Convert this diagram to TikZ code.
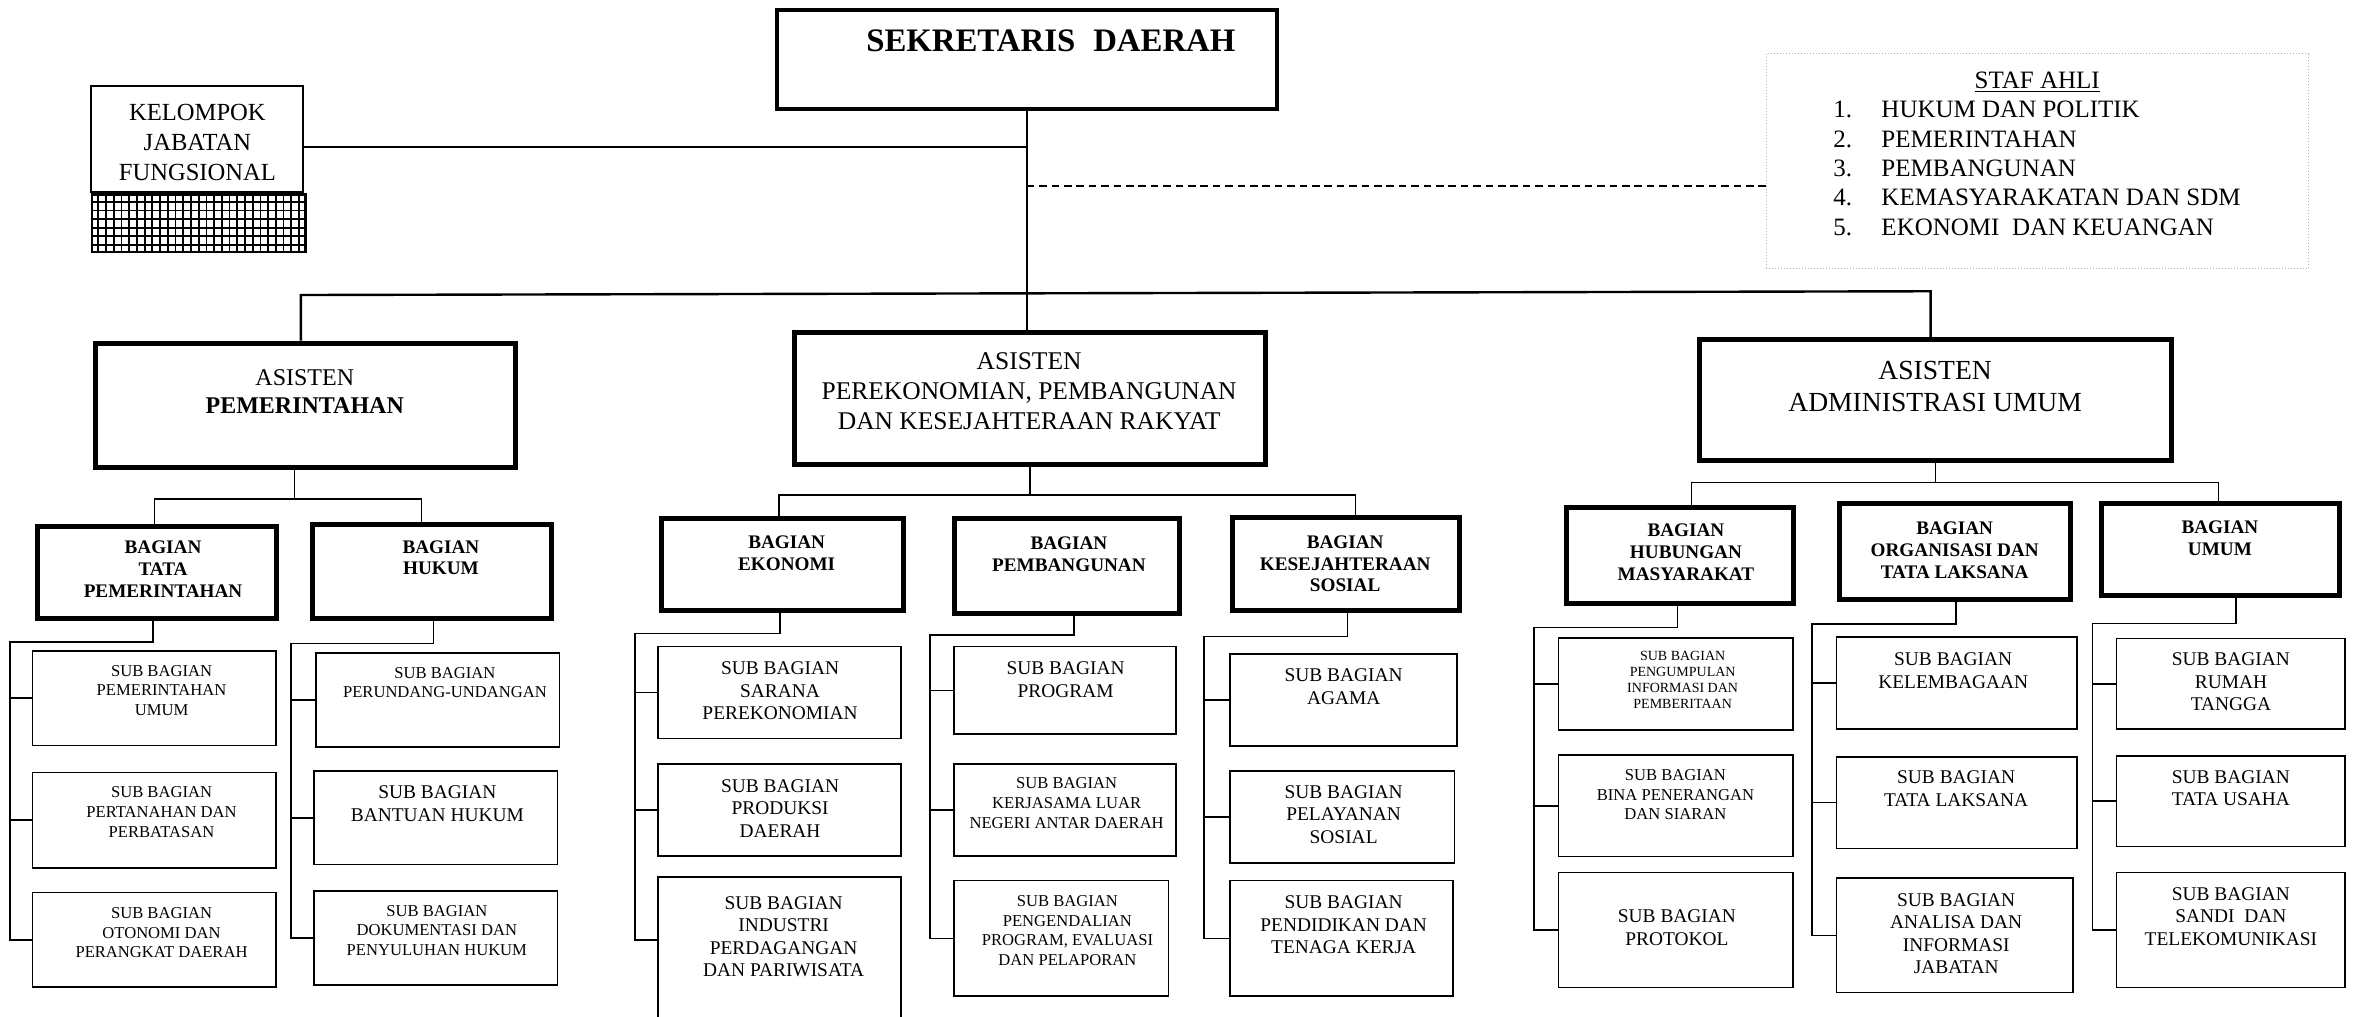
\documentclass[tikz,border=0pt]{standalone}
\usepackage{fontspec}
\setmainfont{Liberation Serif}
\newcommand\bx[7]{\node[#1, anchor=north west, inner sep=0pt,
  minimum width={(#5-#3-2*#7)*0.75065pt}, minimum height={(#6-#4-2*#7)*0.75065pt}] (#2) at (#3,#4) {};}
\newcommand\subcon[4]{%
  \coordinate (#1-d) at (#2,0);
  \coordinate (#1-t) at (#4,#3);
  \draw[con] (#1.south -| #1-d) |- (#1-t) |- (#1-s3.west);
  \draw[con] (#1-t |- #1-s1.west) -- (#1-s1.west);
  \draw[con] (#1-t |- #1-s2.west) -- (#1-s2.west);}
\begin{document}
\begin{tikzpicture}[x=0.75065pt,y=-0.75065pt,
  thickbox/.style={draw, line width=2.5pt},
  sekbox/.style={draw, line width=2pt},
  subbox/.style={draw, line width=0.8pt},
  kelbox/.style={draw, line width=1pt},
  hatchbox/.style={draw, line width=1.2pt},
  stafbox/.style={draw=gray!60, line width=0.5pt, densely dotted},
  gridline/.style={line width=0.9pt},
  con/.style={line width=0.75pt},
  bus/.style={line width=1.2pt},
  kelline/.style={line width=1pt},
  dashline/.style={line width=1pt, dash pattern=on 3.8pt off 2.4pt},
  tx/.style={inner sep=0pt, anchor=north, align=center},
  sekT/.style={tx, font=\fontsize{16.4}{18}\selectfont\bfseries, yshift=5.5pt},
  kelT/.style={tx, font=\fontsize{12.3}{15}\selectfont, yshift=4.1pt},
  stafT/.style={tx, font=\fontsize{12.5}{14.7}\selectfont, yshift=4.1pt},
  stafL/.style={inner sep=0pt, anchor=north west, align=left, font=\fontsize{12.5}{14.7}\selectfont, yshift=4.1pt},
  asTa/.style={tx, font=\fontsize{12}{14.3}\selectfont, yshift=4pt},
  asTb/.style={tx, font=\fontsize{12.75}{15}\selectfont, yshift=4.2pt},
  asTc/.style={tx, font=\fontsize{13.8}{15.8}\selectfont, yshift=4.6pt},
  bagT/.style={tx, font=\fontsize{9.6}{10.9}\selectfont\bfseries, yshift=3.25pt},
  subL/.style={tx, font=\fontsize{9.7}{11.26}\selectfont, yshift=3.2pt},
  subS/.style={tx, font=\fontsize{8.3}{9.76}\selectfont, yshift=2.75pt},
  subT/.style={tx, font=\fontsize{7}{8}\selectfont, yshift=2.3pt}]
\fill[white] (0,0) rectangle (1568,677);
\useasboundingbox (0,0) rectangle (1568,677);

% ---- top level boxes
\bx{sekbox}{sek}{516}{5.5}{852}{74}{1.33}
\bx{kelbox}{kel}{59.7}{56.6}{202.7}{128.8}{0.67}
\bx{hatchbox}{hatch}{60.4}{128.8}{204.3}{168.7}{0.8}
\foreach \i in {1,...,27} \draw[gridline] ({60.4+\i*5.139},128.8) -- ({60.4+\i*5.139},168.7);
\foreach \j in {1,...,6} \draw[gridline] (60.4,{128.8+\j*5.7}) -- (204.3,{128.8+\j*5.7});
\bx{stafbox}{staf}{1176.3}{35.5}{1537.9}{179.4}{0.33}

% ---- asisten
\bx{thickbox}{asPem}{62.1}{226.9}{345}{313}{1.67}
\bx{thickbox}{asPer}{527.5}{219.8}{844.6}{311}{1.67}
\bx{thickbox}{asAdm}{1130.6}{224.7}{1448}{308.2}{1.67}

% ---- bagian
\bx{thickbox}{TATA}{23.3}{349}{185.6}{413.5}{1.67}
\bx{thickbox}{HUK}{206.7}{347.5}{369.3}{413.5}{1.67}
\bx{thickbox}{EKO}{439}{343.5}{603.5}{408.6}{1.67}
\bx{thickbox}{PEMB}{634}{343.7}{787}{410}{1.67}
\bx{thickbox}{KES}{819.3}{343}{973.6}{408}{1.67}
\bx{thickbox}{HUM}{1041.8}{336.4}{1196}{403.7}{1.67}
\bx{thickbox}{ORG}{1223.7}{334}{1381}{400.8}{1.67}
\bx{thickbox}{UMUM}{1398}{334}{1559.8}{398.5}{1.67}

% ---- sub bagian
\bx{subbox}{TATA-s1}{21.1}{433}{184.5}{497}{0.53}
\bx{subbox}{TATA-s2}{21.1}{514}{184.5}{578.6}{0.53}
\bx{subbox}{TATA-s3}{21.1}{594}{184.5}{658}{0.53}
\bx{subbox}{HUK-s1}{210}{434.5}{373.2}{498}{0.53}
\bx{subbox}{HUK-s2}{208.8}{513.2}{371.9}{576.4}{0.53}
\bx{subbox}{HUK-s3}{208.8}{593}{371.9}{656.6}{0.53}
\bx{subbox}{EKO-s1}{437.7}{430}{600.8}{492.5}{0.53}
\bx{subbox}{EKO-s2}{437.7}{508.4}{600.8}{570.8}{0.53}
\bx{subbox}{EKO-s3}{437.7}{583.8}{600.8}{692}{0.53}
\bx{subbox}{PEMB-s1}{635}{430}{784}{489.6}{0.53}
\bx{subbox}{PEMB-s2}{635}{508.4}{784}{570.8}{0.53}
\bx{subbox}{PEMB-s3}{635}{586}{778.9}{664}{0.53}
\bx{subbox}{KES-s1}{818.8}{435}{971}{497.4}{0.53}
\bx{subbox}{KES-s2}{818.8}{513}{969.4}{575.5}{0.53}
\bx{subbox}{KES-s3}{818.8}{586}{968.5}{664}{0.53}
\bx{subbox}{HUM-s1}{1037.5}{424.5}{1195}{486.7}{0.53}
\bx{subbox}{HUM-s2}{1037.5}{502.4}{1195}{571}{0.53}
\bx{subbox}{HUM-s3}{1037.5}{580.6}{1195}{658.3}{0.53}
\bx{subbox}{ORG-s1}{1222.7}{423.6}{1384}{486.3}{0.53}
\bx{subbox}{ORG-s2}{1222.7}{503.6}{1384}{565.7}{0.53}
\bx{subbox}{ORG-s3}{1222.7}{584.4}{1381.5}{661.7}{0.53}
\bx{subbox}{UMUM-s1}{1409.2}{424.7}{1562.5}{486.3}{0.53}
\bx{subbox}{UMUM-s2}{1409.2}{502.9}{1562.5}{564.4}{0.53}
\bx{subbox}{UMUM-s3}{1409.2}{580.6}{1562.5}{658.3}{0.53}

% ---- top connectors
\draw[con] (sek.south) -- (sek.south |- asPer.north);
\coordinate (kl) at (0,98);
\draw[kelline] (kel.east |- kl) -- (sek.south |- kl);
\coordinate (dl) at (0,124);
\draw[dashline] (sek.south |- dl) -- (staf.west |- dl);
\coordinate (busL) at (200.4,196.5);
\coordinate (busR) at (1286,194);
\draw[bus] (asPem.north -| busL) -- (busL) -- (busR) -- (asAdm.north -| busR);

% ---- asisten -> bagian
\coordinate (pD) at (196,332.5);
\coordinate (pL) at (103,332.5);
\coordinate (pR) at (280.7,332.5);
\draw[con] (asPem.south -| pD) -- (pD);
\draw[con] (TATA.north -| pL) -- (pL) -- (pR) -- (HUK.north -| pR);
\coordinate (eD) at (519,329.7);
\coordinate (kD) at (903,329.7);
\draw[con] (asPer.south) -- (asPer.south |- eD);
\draw[con] (EKO.north -| eD) -- (eD) -- (kD) -- (KES.north -| kD);
\coordinate (aL) at (1126.8,321.5);
\coordinate (aR) at (1477.6,321.5);
\draw[con] (asAdm.south) -- (asAdm.south |- aL);
\draw[con] (HUM.north -| aL) -- (aL) -- (aR) -- (UMUM.north -| aR);

% ---- bagian -> sub bagian
\subcon{TATA}{101.8}{427.6}{6.6}
\subcon{HUK}{288.9}{428.5}{193.8}
\coordinate (EKO-d) at (519.6,0);
\coordinate (EKO-t) at (423,421.8);
\coordinate (EKO-k3) at (0,626);
\draw[con] (EKO.south -| EKO-d) |- (EKO-t) |- (EKO-s3.west |- EKO-k3);
\draw[con] (EKO-t |- EKO-s1.west) -- (EKO-s1.west);
\draw[con] (EKO-t |- EKO-s2.west) -- (EKO-s2.west);
\subcon{PEMB}{715.4}{423}{619.5}
\subcon{KES}{897.7}{424}{802}
\subcon{HUM}{1117.5}{418}{1021.8}
\subcon{ORG}{1303}{415.6}{1206.8}
\subcon{UMUM}{1489.4}{415.2}{1393.7}

% ---- texts
\node[sekT] (sek-t) at (700,27) {SEKRETARIS\hspace{0.55em}DAERAH};
\node[kelT] (kel-t) at (131.5,74.5) {KELOMPOK\\JABATAN\\FUNGSIONAL};
\node[stafT] (staf-t) at (1357,53) {\underline{STAF AHLI}};
\node[stafL] (staf-l) at (1221,72.6) {\makebox[24pt][l]{1.}HUKUM DAN POLITIK\\
  \makebox[24pt][l]{2.}PEMERINTAHAN\\
  \makebox[24pt][l]{3.}PEMBANGUNAN\\
  \makebox[24pt][l]{4.}KEMASYARAKATAN DAN SDM\\
  \makebox[24pt][l]{5.}EKONOMI\hspace{0.5em}DAN KEUANGAN};

\node[asTa] (asPem-t) at (203,251) {ASISTEN\\\textbf{PEMERINTAHAN}};
\node[asTb] (asPer-t) at (685.5,240) {ASISTEN\\PEREKONOMIAN, PEMBANGUNAN\\DAN KESEJAHTERAAN RAKYAT};
\node[asTc] (asAdm-t) at (1289,246.5) {ASISTEN\\ADMINISTRASI UMUM};

\node[bagT] (TATA-t) at (108.6,364.6) {BAGIAN\\TATA\\PEMERINTAHAN};
\node[bagT] (HUK-t) at (293.7,364) {BAGIAN\\HUKUM};
\node[bagT] (EKO-tx) at (524,361) {BAGIAN\\EKONOMI};
\node[bagT] (PEMB-tx) at (712,361.7) {BAGIAN\\PEMBANGUNAN};
\node[bagT] (KES-tx) at (896,360.8) {BAGIAN\\KESEJAHTERAAN\\SOSIAL};
\node[bagT] (HUM-tx) at (1123,353) {BAGIAN\\HUBUNGAN\\MASYARAKAT};
\node[bagT] (ORG-tx) at (1302,351.7) {BAGIAN\\ORGANISASI DAN\\TATA LAKSANA};
\node[bagT] (UMUM-tx) at (1478.7,350.8) {BAGIAN\\UMUM};

\node[subS] (TATA-s1t) at (107.6,446.5) {SUB BAGIAN\\PEMERINTAHAN\\UMUM};
\node[subS] (TATA-s2t) at (107.6,527.6) {SUB BAGIAN\\PERTANAHAN DAN\\PERBATASAN};
\node[subS] (TATA-s3t) at (107.6,608) {SUB BAGIAN\\OTONOMI DAN\\PERANGKAT DAERAH};
\node[subS] (HUK-s1t) at (296.4,448) {SUB BAGIAN\\PERUNDANG-UNDANGAN};
\node[subL] (HUK-s2t) at (291.3,527.6) {SUB BAGIAN\\BANTUAN HUKUM};
\node[subS] (HUK-s3t) at (291,606.5) {SUB BAGIAN\\DOKUMENTASI DAN\\PENYULUHAN HUKUM};
\node[subL] (EKO-s1t) at (519.6,445) {SUB BAGIAN\\SARANA\\PEREKONOMIAN};
\node[subL] (EKO-s2t) at (519.6,523) {SUB BAGIAN\\PRODUKSI\\DAERAH};
\node[subL] (EKO-s3t) at (522,601) {SUB BAGIAN\\INDUSTRI\\PERDAGANGAN\\DAN PARIWISATA};
\node[subL] (PEMB-s1t) at (709.8,445) {SUB BAGIAN\\PROGRAM};
\node[subS] (PEMB-s2t) at (710.5,521.6) {SUB BAGIAN\\KERJASAMA LUAR\\NEGERI ANTAR DAERAH};
\node[subS] (PEMB-s3t) at (711,600) {SUB BAGIAN\\PENGENDALIAN\\PROGRAM, EVALUASI\\DAN PELAPORAN};
\node[subL] (KES-s1t) at (895,449.6) {SUB BAGIAN\\AGAMA};
\node[subL] (KES-s2t) at (895,527) {SUB BAGIAN\\PELAYANAN\\SOSIAL};
\node[subL] (KES-s3t) at (895,600.6) {SUB BAGIAN\\PENDIDIKAN DAN\\TENAGA KERJA};
\node[subT] (HUM-s1t) at (1120.8,436.7) {SUB BAGIAN\\PENGUMPULAN\\INFORMASI DAN\\PEMBERITAAN};
\node[subS] (HUM-s2t) at (1116,516) {SUB BAGIAN\\BINA PENERANGAN\\DAN SIARAN};
\node[subL] (HUM-s3t) at (1117,610) {SUB BAGIAN\\PROTOKOL};
\node[subL] (ORG-s1t) at (1301,439) {SUB BAGIAN\\KELEMBAGAAN};
\node[subL] (ORG-s2t) at (1303,517.6) {SUB BAGIAN\\TATA LAKSANA};
\node[subL] (ORG-s3t) at (1303,599) {SUB BAGIAN\\ANALISA DAN\\INFORMASI\\JABATAN};
\node[subL] (UMUM-s1t) at (1486,439) {SUB BAGIAN\\RUMAH\\TANGGA};
\node[subL] (UMUM-s2t) at (1486,517.3) {SUB BAGIAN\\TATA USAHA};
\node[subL] (UMUM-s3t) at (1486,595) {SUB BAGIAN\\SANDI\hspace{0.5em}DAN\\TELEKOMUNIKASI};
\end{tikzpicture}
\end{document}
